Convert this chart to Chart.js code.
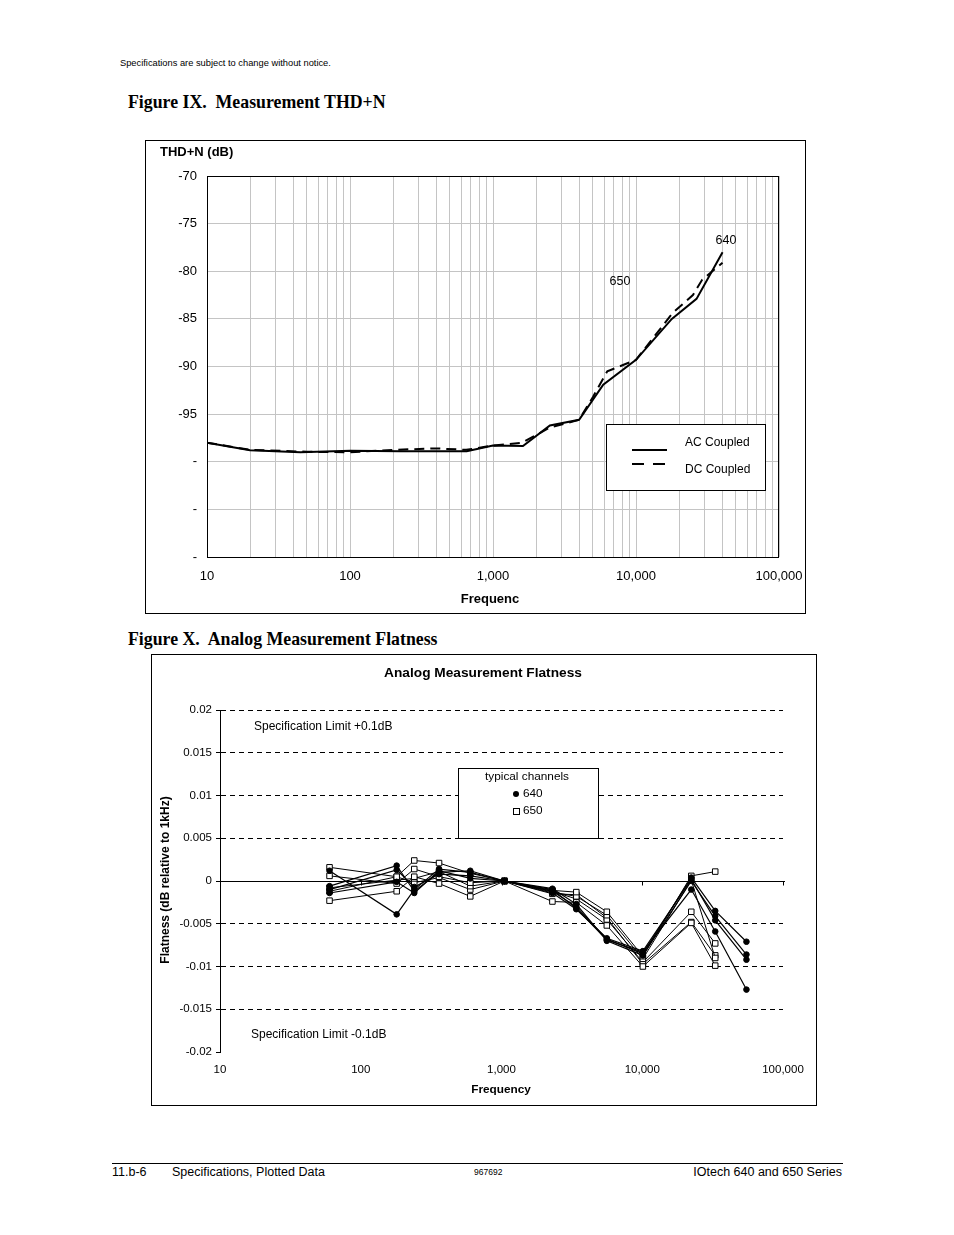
<!DOCTYPE html>
<html>
<head>
<meta charset="utf-8">
<title>Measurement THD+N / Analog Measurement Flatness</title>
<script src="https://cdn.jsdelivr.net/npm/chart.js@4.4.1/dist/chart.umd.min.js"></script>
<style>
  body { margin: 0; background: #fff; color: #000; font-family: "Liberation Sans", Arial, sans-serif; }
  #page { position: relative; width: 954px; height: 1235px; overflow: hidden; }
  .t { position: absolute; white-space: nowrap; line-height: 1; }
  .fig { font-family: "Liberation Serif", "Times New Roman", serif; font-weight: bold; font-size: 17.8px; }
  canvas { position: absolute; }
</style>
</head>
<body>
<div id="page">
  <div class="t" style="left:120px; top:59px; font-size:9.3px;">Specifications are subject to change without notice.</div>
  <div class="t fig" style="left:128px; top:94px;">Figure IX.&nbsp; Measurement THD+N</div>
  <canvas id="thd" width="661" height="474" style="left:145px; top:140px;"></canvas>
  <div class="t fig" style="left:128px; top:631px;">Figure X.&nbsp; Analog Measurement Flatness</div>
  <canvas id="flat" width="666" height="452" style="left:151px; top:654px;"></canvas>
  <div style="position:absolute; left:112px; top:1163px; width:731px; height:1px; background:#000;"></div>
  <div class="t" style="left:112px; top:1166px; font-size:12.5px;">11.b-6</div>
  <div class="t" style="left:172px; top:1166px; font-size:12.5px;">Specifications, Plotted Data</div>
  <div class="t" style="left:474px; top:1168px; font-size:8.5px;">967692</div>
  <div class="t" style="right:112px; top:1166px; font-size:12.5px;">IOtech 640 and 650 Series</div>
</div>

<script>
// Figure IX : THD+N, dB
const acFreq = [10, 20, 45, 100, 225, 655, 1000, 1620, 2500, 4000, 5900, 10000, 17800, 26500, 40300];
const acThd  = [-98.0, -98.8, -99.0, -98.85, -98.9, -98.9, -98.3, -98.35, -96.2, -95.6, -91.9, -89.3, -85.0, -82.9, -78.0];
const dcFreq = [10, 20, 50, 100, 200, 400, 650, 1000, 1600, 2500, 4000, 5000, 6300, 10000, 18000, 25000, 29000, 40300];
const dcThd  = [-98.0, -98.75, -98.95, -99.0, -98.75, -98.6, -98.75, -98.3, -98.0, -96.4, -95.6, -93.2, -90.5, -89.3, -84.4, -82.5, -80.9, -79.1];

// Figure X : flatness, dB relative to 1 kHz
const flatFreq = [60, 180, 240, 360, 600, 1050, 2300, 3400, 5600, 10100, 22300, 33000, 55000];
const flat640a = [0.0012, -0.0039, -0.0010, 0.0014, 0.0010, 0, -0.0010, -0.0032, -0.0069, -0.0083, -0.0010, -0.0059, -0.0127];
const flat640b = [-0.0006, 0.0018, -0.0012, 0.0010, 0.0012, 0, -0.0012, -0.0030, -0.0068, -0.0085, 0.0004, -0.0035, -0.0071];
const flat640c = [-0.0010, 0.0013, -0.0007, 0.0008, 0.0006, 0, -0.0009, -0.0027, -0.0070, -0.0087, 0.0000, -0.0041, -0.0086];
const flat640d = [-0.0014, -0.0001, -0.0014, 0.0012, 0.0003, 0, -0.0014, -0.0033, -0.0067, -0.0082, 0.0002, -0.0046, -0.0092];
const flat650e = [0.0016, 0.0005, 0.0024, 0.0021, 0.0009, 0, -0.0011, -0.0013, -0.0036, -0.0088, 0.0006, 0.0011, null];
const flat650f = [0.0006, -0.0003, 0.0014, 0.0005, -0.0002, 0, -0.0013, -0.0018, -0.0040, -0.0091, 0.0001, -0.0090, null];
const flat650g = [-0.0023, -0.0012, 0.0005, -0.0003, -0.0018, 0, -0.0024, -0.0025, -0.0052, -0.0100, -0.0049, -0.0099, null];
const flat650h = [-0.0008, 0.0001, 0.0003, 0.0011, -0.0006, 0, -0.0012, -0.0021, -0.0045, -0.0095, -0.0036, -0.0073, null];
const flat650i = [-0.0012, 0.0005, -0.0002, 0.0004, -0.0010, 0, -0.0015, -0.0016, -0.0043, -0.0097, -0.0048, -0.0087, null];

const decades = [10, 100, 1000, 10000, 100000];
const decadeLabels = ['10', '100', '1,000', '10,000', '100,000'];

Chart.defaults.font.family = '"Liberation Sans", Arial, sans-serif';
Chart.defaults.color = '#000';
Chart.defaults.animation = false;

function pares(xs, ys) {
    return xs.map((x, i) => ({ x, y: ys[i] })).filter(p => p.y !== null);
}

function rotuloDecada(v) {
    const i = decades.indexOf(v);
    return i >= 0 ? decadeLabels[i] : '';
}

// the end labels may hang past the plot; don't let them shrink it
function semFolga(s, altura) {
    s.height = altura;
    s.paddingLeft = 0;
    s.paddingRight = 0;
}

// ---------- Figure IX ----------
const thdDecor = {
    id: 'thdDecor',
    afterDatasetsDraw(chart) {
        const { ctx, chartArea: a, scales } = chart;
        ctx.save();
        ctx.strokeStyle = '#000';
        ctx.lineWidth = 1;
        ctx.strokeRect(Math.round(a.left) + 0.5, Math.round(a.top) + 0.5, Math.round(a.width) - 1, Math.round(a.height));

        // legend box
        const lx = a.left + 399, ly = a.top + 248;
        ctx.fillStyle = '#fff';
        ctx.fillRect(lx, ly, 159, 66);
        ctx.strokeRect(lx + 0.5, ly + 0.5, 159, 66);
        ctx.lineWidth = 2;
        ctx.beginPath();
        ctx.moveTo(lx + 26, ly + 26); ctx.lineTo(lx + 61, ly + 26);
        ctx.stroke();
        ctx.setLineDash([12, 9]);
        ctx.beginPath();
        ctx.moveTo(lx + 26, ly + 40); ctx.lineTo(lx + 61, ly + 40);
        ctx.stroke();
        ctx.setLineDash([]);

        ctx.fillStyle = '#000';
        ctx.font = '12px "Liberation Sans", Arial, sans-serif';
        ctx.textBaseline = 'middle';
        ctx.textAlign = 'left';
        ctx.fillText('AC Coupled', lx + 79, ly + 19);
        ctx.fillText('DC Coupled', lx + 79, ly + 46);

        // series labels
        ctx.font = '12.5px "Liberation Sans", Arial, sans-serif';
        ctx.textAlign = 'center';
        ctx.fillText('650', scales.x.getPixelForValue(7730), scales.y.getPixelForValue(-81.1));
        ctx.fillText('640', scales.x.getPixelForValue(42600), scales.y.getPixelForValue(-76.8));
        ctx.restore();
    },
    afterDraw(chart) {
        const { ctx, width, height } = chart;
        ctx.save();
        ctx.strokeStyle = '#000';
        ctx.lineWidth = 1;
        ctx.strokeRect(0.5, 0.5, width - 1, height - 1);
        ctx.fillStyle = '#000';
        ctx.textBaseline = 'middle';
        ctx.font = 'bold 13px "Liberation Sans", Arial, sans-serif';
        ctx.textAlign = 'left';
        ctx.fillText('THD+N (dB)', 15, 12);
        ctx.textAlign = 'center';
        ctx.fillText('Frequenc', 345, 459);
        ctx.restore();
    }
};

new Chart(document.getElementById('thd'), {
    type: 'line',
    data: {
        datasets: [
            {
                label: 'AC Coupled',
                data: pares(acFreq, acThd),
                borderColor: '#000',
                borderWidth: 2,
                pointRadius: 0,
                tension: 0
            },
            {
                label: 'DC Coupled',
                data: pares(dcFreq, dcThd),
                borderColor: '#000',
                borderWidth: 2,
                borderDash: [10, 6],
                pointRadius: 0,
                tension: 0
            }
        ]
    },
    options: {
        responsive: false,
        layout: { padding: { left: 12, top: 36, right: 27, bottom: 0 } },
        plugins: { legend: { display: false }, tooltip: { enabled: false } },
        scales: {
            x: {
                type: 'logarithmic',
                min: 10,
                max: 100000,
                afterBuildTicks: s => {
                    const t = [];
                    decades.slice(0, 4).forEach(d => {
                        for (let m = 1; m <= 9; m++) t.push({ value: m * d });
                    });
                    t.push({ value: 100000 });
                    s.ticks = t;
                },
                afterFit: s => semFolga(s, 57),
                grid: { color: '#c4c4c4', drawTicks: false },
                border: { display: false },
                ticks: {
                    autoSkip: false,
                    maxRotation: 0,
                    minRotation: 0,
                    padding: 12,
                    font: { size: 13 },
                    callback: v => rotuloDecada(v)
                }
            },
            y: {
                min: -110,
                max: -70,
                afterFit: s => { s.width = 50; },
                grid: { color: '#c4c4c4', drawTicks: false },
                border: { display: false },
                ticks: {
                    stepSize: 5,
                    padding: 10,
                    font: { size: 13 },
                    callback: v => (v > -100 ? String(v) : '-')
                }
            }
        }
    },
    plugins: [thdDecor]
});

// ---------- Figure X ----------
const flatDecor = {
    id: 'flatDecor',
    beforeDatasetsDraw(chart) {
        const { ctx, chartArea: a, scales } = chart;
        const y0 = Math.round(scales.y.getPixelForValue(0)) + 0.5;
        ctx.save();
        ctx.strokeStyle = '#000';
        ctx.lineWidth = 1;
        ctx.beginPath();
        ctx.moveTo(a.left, y0);
        ctx.lineTo(a.right + 2, y0);
        decades.slice(1).forEach(d => {
            const x = Math.round(scales.x.getPixelForValue(d)) + 0.5;
            ctx.moveTo(x, y0);
            ctx.lineTo(x, y0 + 4);
        });
        ctx.stroke();
        ctx.restore();
    },
    afterDraw(chart) {
        const { ctx, width, height } = chart;
        ctx.save();
        ctx.strokeStyle = '#000';
        ctx.lineWidth = 1;
        ctx.strokeRect(0.5, 0.5, width - 1, height - 1);
        ctx.fillStyle = '#000';
        ctx.textBaseline = 'middle';

        ctx.font = 'bold 13.7px "Liberation Sans", Arial, sans-serif';
        ctx.textAlign = 'center';
        ctx.fillText('Analog Measurement Flatness', 332, 19);
        ctx.font = 'bold 11.8px "Liberation Sans", Arial, sans-serif';
        ctx.fillText('Frequency', 350, 436);
        ctx.save();
        ctx.translate(15, 226);
        ctx.rotate(-Math.PI / 2);
        ctx.font = 'bold 12px "Liberation Sans", Arial, sans-serif';
        ctx.fillText('Flatness (dB relative to 1kHz)', 0, 0);
        ctx.restore();

        ctx.font = '12px "Liberation Sans", Arial, sans-serif';
        ctx.textAlign = 'left';
        ctx.fillText('Specification Limit +0.1dB', 103, 73);
        ctx.fillText('Specification Limit -0.1dB', 100, 381);

        // legend box
        const lx = 307, ly = 114;
        ctx.fillStyle = '#fff';
        ctx.fillRect(lx, ly, 140, 70);
        ctx.strokeRect(lx + 0.5, ly + 0.5, 140, 70);
        ctx.fillStyle = '#000';
        ctx.font = '11.8px "Liberation Sans", Arial, sans-serif';
        ctx.textAlign = 'center';
        ctx.fillText('typical channels', lx + 69, ly + 9);
        ctx.textAlign = 'left';
        ctx.fillText('640', lx + 65, ly + 26);
        ctx.fillText('650', lx + 65, ly + 43);
        ctx.beginPath();
        ctx.arc(lx + 58, ly + 26, 3, 0, Math.PI * 2);
        ctx.fill();
        ctx.strokeRect(lx + 55.5, ly + 40.5, 6, 6);
        ctx.restore();
    }
};

function serie640(nome, valores) {
    return {
        label: nome,
        data: pares(flatFreq, valores),
        borderColor: '#000',
        borderWidth: 1.2,
        pointStyle: 'circle',
        pointRadius: 2.8,
        pointBackgroundColor: '#000',
        pointBorderColor: '#000',
        pointBorderWidth: 1,
        tension: 0
    };
}

function serie650(nome, valores) {
    return {
        label: nome,
        data: pares(flatFreq, valores),
        borderColor: '#000',
        borderWidth: 1,
        pointStyle: 'rect',
        pointRadius: 3.9,
        pointBackgroundColor: '#fff',
        pointBorderColor: '#000',
        pointBorderWidth: 1,
        tension: 0
    };
}

new Chart(document.getElementById('flat'), {
    type: 'line',
    data: {
        datasets: [
            serie640('640 a', flat640a),
            serie640('640 b', flat640b),
            serie640('640 c', flat640c),
            serie640('640 d', flat640d),
            serie650('650 e', flat650e),
            serie650('650 f', flat650f),
            serie650('650 g', flat650g),
            serie650('650 h', flat650h),
            serie650('650 i', flat650i)
        ]
    },
    options: {
        responsive: false,
        layout: { padding: { left: 10, top: 56, right: 34, bottom: 0 } },
        plugins: { legend: { display: false }, tooltip: { enabled: false } },
        scales: {
            x: {
                type: 'logarithmic',
                min: 10,
                max: 100000,
                afterBuildTicks: s => { s.ticks = decades.map(v => ({ value: v })); },
                afterFit: s => semFolga(s, 54),
                grid: { display: false, drawTicks: false },
                border: { display: false },
                ticks: {
                    autoSkip: false,
                    maxRotation: 0,
                    minRotation: 0,
                    padding: 11,
                    font: { size: 11.5 },
                    callback: v => rotuloDecada(v)
                }
            },
            y: {
                min: -0.02,
                max: 0.02,
                afterFit: s => { s.width = 59; },
                grid: {
                    color: c => (Math.abs(c.tick.value) < 1e-9 || c.tick.value < -0.0199 ? 'rgba(0,0,0,0)' : '#000'),
                    tickColor: '#000',
                    tickLength: 4
                },
                border: { display: true, color: '#000', dash: [5, 4] },
                ticks: {
                    stepSize: 0.005,
                    padding: 4,
                    font: { size: 11.5 },
                    callback: v => String(Number(v.toFixed(3)))
                }
            }
        }
    },
    plugins: [flatDecor]
});
</script>
</body>
</html>
